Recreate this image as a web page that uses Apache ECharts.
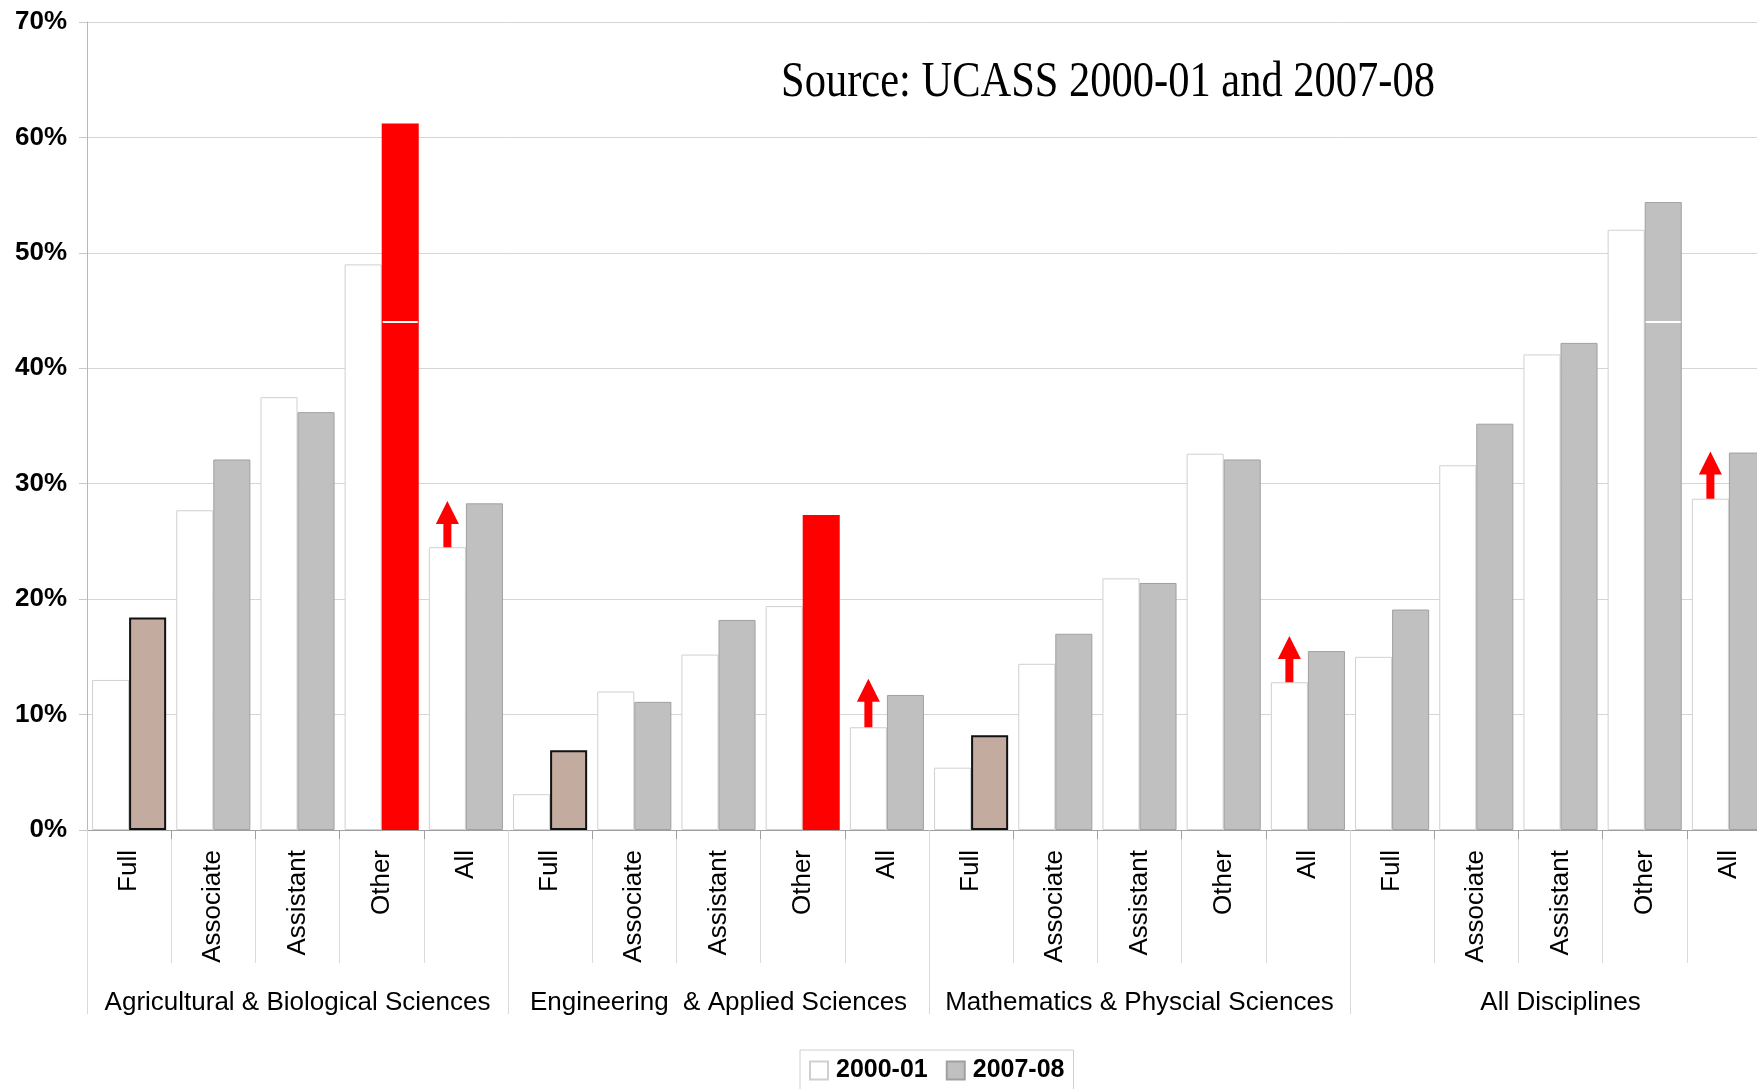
<!DOCTYPE html>
<html><head><meta charset="utf-8">
<script src="https://cdn.jsdelivr.net/npm/echarts@6/dist/echarts.min.js"></script>
<style>html,body{margin:0;padding:0;background:#fff}#chart{width:1757px;height:1089px}</style>
</head><body><div id="chart"></div>
<script>
// ---- data ----
const groups = ['Agricultural & Biological Sciences', 'Engineering  & Applied Sciences', 'Mathematics & Physcial Sciences', 'All Disciplines'];
const levels = ['Full', 'Associate', 'Assistant', 'Other', 'All'];
const values2000 = [13.0, 27.7, 37.5, 49.0, 24.5,  3.1, 12.0, 15.2, 19.4, 8.9,  5.4, 14.4, 21.8, 32.6, 12.8,  15.0, 31.6, 41.2, 52.0, 28.7];
const values2007 = [18.4, 32.1, 36.2, 61.2, 28.3,  6.9, 11.1, 18.2, 27.3, 11.7,  8.2, 17.0, 21.4, 32.1, 15.5,  19.1, 35.2, 42.2, 54.4, 32.7];
const arrowCats = [4, 9, 14, 19];          // "All" categories carrying an up-arrow
const arrowTo = [28.5, 13.1, 16.8, 32.8];  // arrow tip values
const breakLevel = 44;                     // white line across tall 2007-08 bars
const seriesNames = ['2000-01', '2007-08'];
const sourceText = 'Source: UCASS 2000-01 and 2007-08';

// ---- styles ----
const kind2007 = ['brown','gray','gray','red','gray', 'brown','gray','gray','red','gray', 'brown','gray','gray','gray','gray', 'gray','gray','gray','gray','gray'];
const styles = {
  gray: { color: '#c0c0c0', borderColor: '#a0a0a0', borderWidth: 1 },
  brown: { color: '#c4aba0', borderColor: '#111', borderWidth: 2 },
  red: { color: '#ff0000', borderWidth: 0 }
};
const FONT = '"Liberation Sans", Arial, sans-serif';
const CAT_GAP = 0.12;

const categories = [];
groups.forEach(() => levels.forEach(l => categories.push(l)));

const chart = echarts.init(document.getElementById('chart'), null, { renderer: 'canvas' });

const option = {
  animation: false,
  backgroundColor: '#fff',
  graphic: [{
    type: 'text', x: 781, y: 83, scaleX: 0.85, originX: 0, originY: 0, z: 100,
    style: { text: sourceText, font: '50px "Liberation Serif", "Times New Roman", serif', fill: '#000',
      textAlign: 'left', textVerticalAlign: 'middle', align: 'left', verticalAlign: 'middle' }
  }],
  legend: {
    data: seriesNames, left: 800, top: 1050, orient: 'horizontal',
    borderColor: '#d0d0d0', borderWidth: 1, padding: [8, 9, 12, 9],
    itemWidth: 18, itemHeight: 18, itemGap: 18, icon: 'rect',
    textStyle: { fontFamily: FONT, fontSize: 25, fontWeight: 'bold', color: '#000', padding: [0, 0, 0, 3] }
  },
  grid: { left: 87, width: 1684, top: 22, bottom: 259, containLabel: false, outerBoundsMode: 'none' },
  xAxis: [
    {
      type: 'category', data: categories, position: 'bottom',
      axisLine: { show: true, lineStyle: { color: '#a0a0a0', width: 1 } },
      axisTick: { show: true, interval: 0, length: 133, lineStyle: { color: '#d9d9d9' } },
      axisLabel: { interval: 0, rotate: 90, margin: 20, fontFamily: FONT, fontSize: 26, color: '#000' },
      splitLine: { show: false }
    },
    {
      type: 'category', data: categories, position: 'bottom', gridIndex: 0,
      axisLine: { show: false },
      axisTick: { show: true, interval: 0, length: 9, lineStyle: { color: '#a0a0a0' } },
      axisLabel: { show: false }, splitLine: { show: false }
    },
    {
      type: 'category', data: groups, position: 'bottom', gridIndex: 0,
      axisLine: { show: false },
      axisTick: { show: true, interval: 0, length: 184, lineStyle: { color: '#d9d9d9' } },
      axisLabel: { interval: 0, margin: 160, fontFamily: FONT, fontSize: 26, color: '#000' },
      splitLine: { show: false }
    }
  ],
  yAxis: {
    type: 'value', min: 0, max: 70, interval: 10,
    axisLine: { show: true, lineStyle: { color: '#b8b8b8' } },
    axisTick: { show: true, length: 8, lineStyle: { color: '#c8c8c8' } },
    axisLabel: { formatter: '{value}%', margin: 20, fontFamily: FONT, fontSize: 26, fontWeight: 'bold', color: '#000' },
    splitLine: { show: true, lineStyle: { color: '#d6d6d6', width: 1 } }
  },
  series: [
    {
      name: seriesNames[0], type: 'bar', xAxisIndex: 0, barGap: '0%', barCategoryGap: (CAT_GAP * 100) + '%',
      itemStyle: { color: '#ffffff', borderColor: '#d0d0d0', borderWidth: 1 },
      data: values2000, z: 2
    },
    {
      name: seriesNames[1], type: 'bar', xAxisIndex: 0, barGap: '0%', barCategoryGap: (CAT_GAP * 100) + '%',
      itemStyle: styles.gray,
      data: values2007.map((v, i) => ({ value: v, itemStyle: styles[kind2007[i]] })), z: 2
    },
    {
      name: 'break', type: 'custom', xAxisIndex: 0, z: 5, silent: true,
      encode: { x: 0, y: 1 },
      data: values2007.map((v, i) => [i, breakLevel, v]).filter(d => d[2] > breakLevel),
      renderItem: function (params, api) {
        const c = api.coord([api.value(0), api.value(1)]);
        const band = api.size([1, 0])[0];
        const w = band * (1 - CAT_GAP) / 2;
        return { type: 'rect', shape: { x: c[0] + 1, y: c[1] - 1, width: w - 2, height: 2 }, style: { fill: '#ffffff' } };
      }
    },
    {
      name: 'arrows', type: 'custom', xAxisIndex: 0, z: 6, silent: true,
      encode: { x: 0, y: [1, 2] },
      data: arrowCats.map((c, i) => [c, values2000[c], arrowTo[i]]),
      renderItem: function (params, api) {
        const p0 = api.coord([api.value(0), api.value(1)]);
        const p1 = api.coord([api.value(0), api.value(2)]);
        const band = api.size([1, 0])[0];
        const w = band * (1 - CAT_GAP) / 2;
        const cx = p0[0] - w / 2;
        const hh = 23, hw = 23, sw = 8;
        const yb = p0[1], yt = p1[1];
        return {
          type: 'polygon',
          shape: { points: [[cx - sw / 2, yb], [cx - sw / 2, yt + hh], [cx - hw / 2, yt + hh], [cx, yt], [cx + hw / 2, yt + hh], [cx + sw / 2, yt + hh], [cx + sw / 2, yb]] },
          style: { fill: '#ff0000' }
        };
      }
    }
  ]
};
chart.setOption(option);
</script>
</body></html>
